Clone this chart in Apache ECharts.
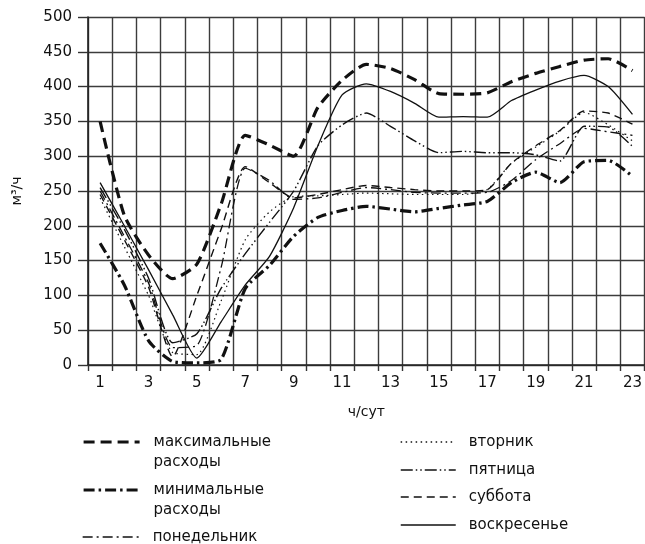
<!DOCTYPE html>
<html>
<head>
<meta charset="utf-8">
<script src="https://cdn.jsdelivr.net/npm/echarts@6/dist/echarts.min.js"></script>
<style>
  html, body { margin: 0; padding: 0; background: #fff; }
  #chart { width: 645px; height: 544px; }
</style>
</head>
<body>
<div id="chart"></div>
<script>
// Hours of the day (ч/сут)
const hours = ['1','2','3','4','5','6','7','8','9','10','11','12','13','14','15','16','17','18','19','20','21','22','23'];

// Hourly water flow, м³/ч
const maxFlow = [350, 215, 158, 124, 145, 231, 330, 316, 300, 370, 409, 432, 426, 410, 390, 389, 391, 407, 419, 429, 438, 440, 423];
const minFlow = [175, 115, 35, 5, 3, 8, 110, 143, 185, 212, 222, 228, 224, 220, 225, 230, 235, 262, 277, 262, 292, 294, 271];
const monday = [250, 185, 118, 25, 28, 140, 283, 265, 238, 240, 248, 255, 252, 248, 247, 247, 248, 265, 295, 318, 340, 335, 330];
const tuesday = [240, 170, 100, 18, 15, 92, 180, 220, 242, 243, 245, 247, 246, 245, 245, 245, 252, 290, 313, 336, 363, 345, 322];
const friday = [255, 195, 125, 32, 45, 110, 160, 205, 250, 315, 345, 362, 343, 322, 305, 307, 305, 305, 302, 293, 343, 342, 314];
const saturday = [245, 180, 112, 12, 100, 195, 285, 262, 240, 245, 252, 258, 255, 252, 250, 250, 252, 290, 315, 337, 365, 362, 346];
const sunday = [262, 200, 137, 72, 10, 62, 115, 156, 226, 315, 388, 404, 393, 376, 356, 357, 356, 380, 395, 408, 416, 400, 360];

const FONT = 'DejaVu Sans';
const INK = '#111';

const chart = echarts.init(document.getElementById('chart'), null, { renderer: 'canvas' });

function lineSeries(name, data, width, dash) {
  return {
    name: name,
    type: 'line',
    data: data,
    symbol: 'none',
    smooth: 0.2,
    silent: true,
    lineStyle: { color: INK, width: width, type: dash, cap: 'butt' },
    itemStyle: { color: INK }
  };
}

// One legend block per entry so each can sit in its own column / row.
// Two-line names get a leading empty line so the sample line sits beside the first line.
function legendEntry(name, left, top, width, gapPad, twoLines, lineWidth) {
  return {
    data: [name],
    left: left,
    top: top,
    orient: 'vertical',
    padding: 0,
    itemWidth: width,
    itemHeight: 14,
    selectedMode: false,
    itemStyle: { opacity: 0 },
    lineStyle: { width: lineWidth },
    formatter: twoLines ? (n => '\n' + n.replace(' ', '\n')) : (n => n),
    textStyle: {
      fontFamily: FONT,
      fontSize: 15,
      color: INK,
      lineHeight: 20,
      padding: [0, 0, 0, gapPad]
    }
  };
}

const option = {
  animation: false,
  backgroundColor: '#fff',
  grid: { left: 88, top: 17, right: 0, bottom: 179, containLabel: false },
  xAxis: {
    type: 'category',
    data: hours,
    boundaryGap: true,
    name: 'ч/сут',
    nameLocation: 'middle',
    nameGap: 40,
    nameTextStyle: { fontFamily: FONT, fontSize: 14, color: INK },
    axisLine: { show: true, lineStyle: { color: '#222', width: 1.6 } },
    axisTick: { show: true, interval: 0, length: 6, lineStyle: { color: '#333', width: 1.4 } },
    axisLabel: { interval: 1, margin: 11, fontFamily: FONT, fontSize: 15, color: INK },
    splitLine: { show: true, interval: 0, lineStyle: { color: '#3c3c3c', width: 1.4 } }
  },
  yAxis: {
    type: 'value',
    min: 0,
    max: 500,
    interval: 50,
    name: 'м³/ч',
    nameLocation: 'middle',
    nameRotate: 90,
    nameGap: 64,
    nameTextStyle: { fontFamily: FONT, fontSize: 14, color: INK },
    axisLine: { show: true, lineStyle: { color: '#222', width: 1.6 } },
    axisTick: { show: true, length: 10, lineStyle: { color: '#333', width: 1.4 } },
    axisLabel: { margin: 16, fontFamily: FONT, fontSize: 15, color: INK },
    splitLine: { show: true, lineStyle: { color: '#3c3c3c', width: 1.4 } }
  },
  legend: [
    legendEntry('максимальные расходы', 82, 412, 56, 9, true, 3.2),
    legendEntry('минимальные расходы', 82, 460, 56, 9, true, 3.2),
    legendEntry('понедельник', 82, 527, 56, 9, false, 1.3),
    legendEntry('вторник', 400, 432, 55, 8, false, 1.3),
    legendEntry('пятница', 400, 460, 55, 8, false, 1.5),
    legendEntry('суббота', 400, 487, 55, 8, false, 1.5),
    legendEntry('воскресенье', 400, 515, 55, 8, false, 1.5)
  ],
  series: [
    lineSeries('максимальные расходы', maxFlow, 3.2, [11, 6]),
    lineSeries('минимальные расходы', minFlow, 3.2, [11, 4, 2.5, 4]),
    lineSeries('понедельник', monday, 1.3, [10, 4, 2, 4]),
    lineSeries('вторник', tuesday, 1.2, [1.5, 3.5]),
    lineSeries('пятница', friday, 1.4, [12, 3, 1.5, 3, 1.5, 3]),
    lineSeries('суббота', saturday, 1.4, [8, 5]),
    lineSeries('воскресенье', sunday, 1.3, 'solid')
  ]
};

chart.setOption(option);
</script>
</body>
</html>
